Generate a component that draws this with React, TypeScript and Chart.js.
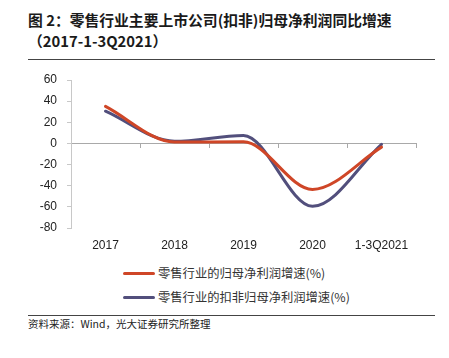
import React, { useEffect, useRef } from "react";
import { Chart, registerables } from "chart.js";

Chart.register(...registerables);

const categories = ["2017", "2018", "2019", "2020", "1-3Q2021"];
const netProfitGrowth = [35, 1.3, 1.5, -43.5, -3.5];
const deductedNetProfitGrowth = [30.5, 2, 7.5, -59.5, -0.8];
const yTicks = [60, 40, 20, 0, -20, -40, -60, -80];

const seriesNames = ["零售行业的归母净利润增速(%)", "零售行业的扣非归母净利润增速(%)"];
const seriesColors = ["#CF4627", "#524F7C"];

const titleLine1 = "图 2：零售行业主要上市公司(扣非)归母净利润同比增速";
const titleLine2 = "（2017-1-3Q2021）";
const sourceText = "资料来源：Wind，光大证券研究所整理";

const AXIS_GRAY = "#A9A9A9";
const CJK = '"Noto Sans CJK SC", "Noto Sans", sans-serif';
const LATIN = '"Liberation Sans", Arial, sans-serif';

export default function App() {
  const canvasRef = useRef<HTMLCanvasElement | null>(null);

  useEffect(() => {
    const canvas = canvasRef.current;
    if (!canvas) return;
    const chart = new Chart(canvas, {
      type: "line",
      data: {
        labels: categories,
        datasets: [
          {
            label: seriesNames[0],
            data: netProfitGrowth,
            borderColor: seriesColors[0],
            backgroundColor: seriesColors[0],
            borderWidth: 3,
            pointRadius: 0,
            cubicInterpolationMode: "monotone",
            borderCapStyle: "round",
          },
          {
            label: seriesNames[1],
            data: deductedNetProfitGrowth,
            borderColor: seriesColors[1],
            backgroundColor: seriesColors[1],
            borderWidth: 3,
            pointRadius: 0,
            cubicInterpolationMode: "monotone",
            borderCapStyle: "round",
          },
        ],
      },
      options: {
        animation: false,
        responsive: true,
        maintainAspectRatio: false,
        layout: { padding: { top: 20, right: 33, left: 0, bottom: 0 } },
        plugins: { legend: { display: false }, tooltip: { enabled: false } },
        scales: {
          x: {
            type: "category",
            position: "bottom",
            offset: true,
            grid: { display: false, drawTicks: false },
            border: { display: false },
            ticks: {
              color: "#222",
              font: { family: LATIN, size: 12 },
              padding: 10,
              maxRotation: 0,
              autoSkip: false,
            },
            afterFit: (s: any) => {
              s.height = 32;
            },
          },
          x2: {
            type: "category",
            axis: "x",
            labels: categories,
            offset: true,
            position: { y: 0 } as any,
            grid: {
              drawOnChartArea: false,
              drawTicks: true,
              tickLength: 4,
              color: AXIS_GRAY,
              offset: true,
            },
            border: { display: true, color: AXIS_GRAY, width: 1 },
            ticks: { display: false },
          } as any,
          y: {
            min: -80,
            max: 60,
            afterBuildTicks: (s: any) => {
              s.ticks = yTicks.map((v) => ({ value: v }));
            },
            grid: {
              drawOnChartArea: false,
              tickLength: 4,
              color: "#C8C8C8",
            },
            border: { display: true, color: "#C8C8C8", width: 1 },
            ticks: {
              color: "#222",
              font: { family: LATIN, size: 12 },
              padding: 10,
            },
            afterFit: (s: any) => {
              s.width = 71;
            },
          },
        },
      },
    });
    return () => chart.destroy();
  }, []);

  return (
    <div
      style={{
        position: "absolute",
        left: 0,
        top: 0,
        width: 449,
        height: 358,
        background: "#fff",
        overflow: "hidden",
      }}
    >
      <div
        style={{
          position: "absolute",
          left: 28,
          top: 9,
          fontFamily: CJK,
          fontWeight: 700,
          fontSize: 14.8,
          lineHeight: "21px",
          color: "#1a1a1a",
          whiteSpace: "nowrap",
        }}
      >
        <div>{titleLine1}</div>
        <div>{titleLine2}</div>
      </div>
      <div
        style={{
          position: "absolute",
          left: 28,
          top: 59,
          width: 407,
          height: 1,
          background: "#444",
        }}
      />
      <div style={{ position: "absolute", left: 0, top: 60, width: 449, height: 200 }}>
        <canvas ref={canvasRef} />
      </div>
      {seriesNames.map((name, i) => (
        <div
          key={name}
          style={{
            position: "absolute",
            left: 123,
            top: 264 + i * 24,
            height: 18,
            display: "flex",
            alignItems: "center",
            whiteSpace: "nowrap",
          }}
        >
          <div
            style={{
              width: 32,
              height: 3,
              borderRadius: 2,
              background: seriesColors[i],
              marginRight: 3,
            }}
          />
          <span style={{ fontFamily: CJK, fontSize: 12.3, color: "#333" }}>{name}</span>
        </div>
      ))}
      <div
        style={{
          position: "absolute",
          left: 28,
          top: 315,
          width: 407,
          height: 1,
          background: "#444",
        }}
      />
      <div
        style={{
          position: "absolute",
          left: 28,
          top: 316,
          fontFamily: CJK,
          fontSize: 10.5,
          lineHeight: "15px",
          color: "#222",
          whiteSpace: "nowrap",
        }}
      >
        {sourceText}
      </div>
    </div>
  );
}
